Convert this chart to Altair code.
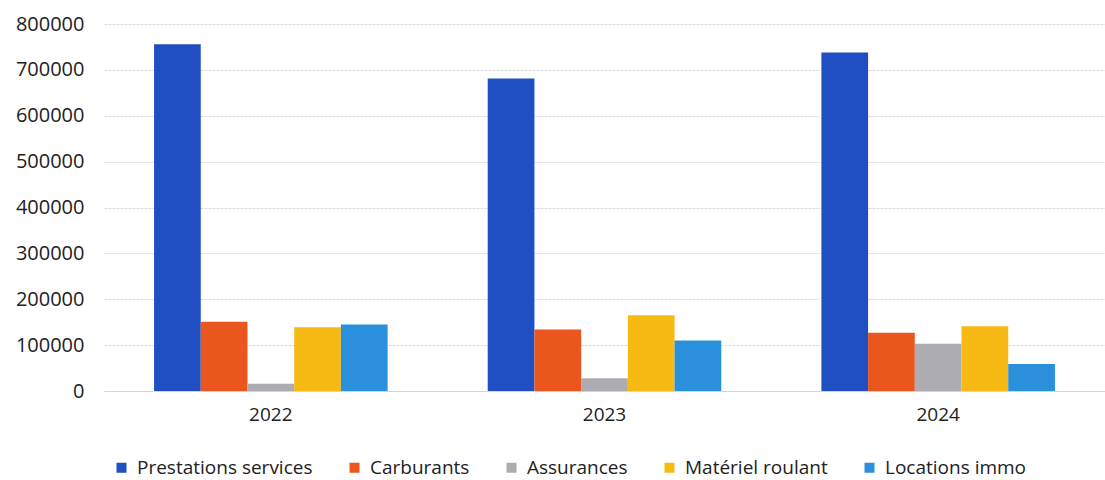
import altair as alt
import pandas as pd

years = ["2022", "2023", "2024"]
series = ["Prestations services", "Carburants", "Assurances", "Matériel roulant", "Locations immo"]
prestations = [756000, 681000, 738000]
carburants = [151000, 134000, 127000]
assurances = [16000, 28000, 103000]
materiel = [139000, 165000, 141000]
locations = [145000, 110000, 59000]
colors = ["#1f4fc2", "#ea561e", "#acacb2", "#f7b914", "#2b90dc"]
y_ticks = [0, 100000, 200000, 300000, 400000, 500000, 600000, 700000, 800000]

values = [prestations, carburants, assurances, materiel, locations]
rows = []
for s, vals in zip(series, values):
    for y, v in zip(years, vals):
        rows.append({"Année": y, "Poste": s, "Valeur": v})
df = pd.DataFrame(rows)

FONT = "Open Sans"

chart = alt.Chart(df).mark_bar().encode(
    x=alt.X("Année:N", sort=years,
            scale=alt.Scale(paddingInner=0.3, paddingOuter=0.15),
            axis=alt.Axis(title=None, labelAngle=0, ticks=False, domain=True,
                          domainColor="#d4d4d4", labelFontSize=19, labelPadding=14,
                          labelColor="#222222", labelFont=FONT)),
    xOffset=alt.XOffset("Poste:N", sort=series, scale=alt.Scale(paddingInner=0.0)),
    y=alt.Y("Valeur:Q", scale=alt.Scale(domain=[0, 800000]),
            axis=alt.Axis(values=y_ticks, format="d", title=None, domain=False, ticks=False,
                          grid=True, gridColor="#dcdcdc", gridDash=[3, 1],
                          labelFontSize=20, labelPadding=20, labelColor="#222222",
                          labelFont=FONT)),
    color=alt.Color("Poste:N", sort=series,
                    scale=alt.Scale(domain=series, range=colors),
                    legend=alt.Legend(orient="none", direction="horizontal",
                                      legendX=8, legendY=434, title=None,
                                      symbolType="square", symbolSize=100,
                                      symbolStrokeWidth=0, labelFontSize=19,
                                      labelFont=FONT, labelColor="#222222",
                                      labelLimit=0,
                                      columnPadding=32, padding=0, labelOffset=6)),
).properties(
    width=1001, height=367, autosize="none",
    padding={"left": 104, "top": 24, "right": 0, "bottom": 89},
).configure_view(stroke=None)

chart.save("out.html", embed_options={"renderer": "svg", "actions": False})
